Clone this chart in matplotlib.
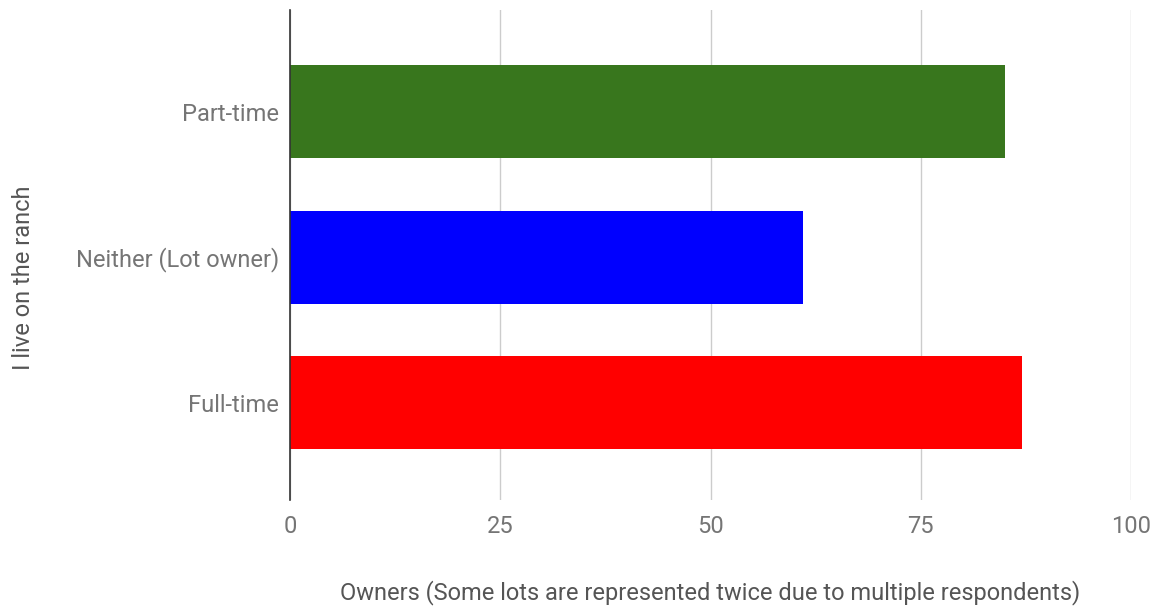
import matplotlib
matplotlib.use("Agg")
import matplotlib.pyplot as plt

categories = ["Full-time", "Neither (Lot owner)", "Part-time"]
values = [87, 61, 85]
colors = ["#ff0000", "#0000ff", "#38761d"]
xticks = [0, 25, 50, 75, 100]

plt.rcParams['font.family'] = ['Roboto', 'DejaVu Sans']

fig = plt.figure(figsize=(11.61, 6.10), dpi=100)
ax = fig.add_axes([290/1161, 1-500/610, 841/1161, 490/610])

ypos = list(range(len(categories)))
ax.barh(ypos, values, height=0.64, color=colors, zorder=3)

ax.set_xlim(0, 100)
ax.set_ylim(-0.67, 2.70)
ax.set_xticks(xticks)
ax.set_xticklabels([str(t) for t in xticks])
ax.set_yticks(ypos)
ax.set_yticklabels(categories)

ax.grid(axis='x', color='#cccccc', linewidth=1, zorder=0)
for s in ['top', 'right', 'bottom']:
    ax.spines[s].set_visible(False)
ax.spines['left'].set_color('#333333')
ax.spines['left'].set_linewidth(1.2)
ax.spines['left'].set_zorder(4)

ax.tick_params(axis='both', length=0, labelsize=17, colors='#757575')
ax.tick_params(axis='x', pad=11)
ax.tick_params(axis='y', pad=8)

ax.set_xlabel("Owners (Some lots are represented twice due to multiple respondents)",
              fontsize=17, color='#555555', labelpad=30)
ax.set_ylabel("I live on the ranch", fontsize=17, color='#555555', labelpad=29)
ax.yaxis.label.set_y(0.453)

fig.savefig("out.png", dpi=100)
